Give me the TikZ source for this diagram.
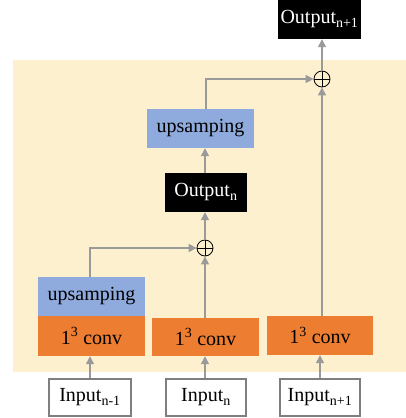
\documentclass[tikz,border=0pt]{standalone}
\usepackage{fontspec}
\setmainfont{Liberation Serif}
\usetikzlibrary{arrows.meta}
\definecolor{bgyel}{HTML}{FCF0CF}
\definecolor{convor}{HTML}{ED7D31}
\definecolor{upblue}{HTML}{8FAADC}
\definecolor{linegray}{HTML}{9A9A9A}
\definecolor{boxgray}{HTML}{7F7F7F}
\tikzset{
  box/.style={rectangle, inner sep=0pt, minimum width=107pt, minimum height=39pt, font=\fontsize{20}{22}\selectfont},
  convbox/.style={box, fill=convor, text=black},
  upbox/.style={box, fill=upblue, text=black},
  outbox/.style={box, fill=black, text=white, minimum width=82pt},
  inbox/.style={box, fill=white, draw=boxgray, line width=1.3pt, minimum width=80pt, minimum height=37pt},
  plusnode/.style={circle, draw=black, line width=0.8pt, minimum size=16pt, inner sep=0pt},
  arr/.style={draw=linegray, line width=1.3pt, -{Triangle[width=8pt,length=8pt]}, color=linegray},
}
\begin{document}
\begin{tikzpicture}[x=1pt,y=-1pt]
\useasboundingbox (0,0) rectangle (406,418);
\fill[bgyel] (13,60) rectangle (406,372);
\node[outbox, minimum width=83pt] (out1) at (319.5,19.5) {Output\textsubscript{n+1}};
\node[plusnode] (plus1) at (322,79) {};
\draw[line width=0.8pt] (plus1.north) -- (plus1.south) (plus1.west) -- (plus1.east);
\node[upbox] (up1) at (200.5,128.5) {upsamping};
\node[outbox] (outn) at (206,192.5) {Output\textsubscript{n}};
\node[plusnode] (plus2) at (205,248) {};
\draw[line width=0.8pt] (plus2.north) -- (plus2.south) (plus2.west) -- (plus2.east);
\node[upbox] (up2) at (91.5,296.5) {upsamping};
\node[convbox, minimum height=40pt] (conv1) at (91.5,336) {1\textsuperscript{3} conv};
\node[convbox, minimum height=38pt] (conv2) at (205.5,337) {1\textsuperscript{3} conv};
\node[convbox, minimum width=106pt] (conv3) at (320,335.5) {1\textsuperscript{3} conv};
\node[inbox, minimum width=82pt] (in1) at (90,397.5) {Input\textsubscript{n-1}};
\node[inbox] (in2) at (206,397.5) {Input\textsubscript{n}};
\node[inbox] (in3) at (320,397.5) {Input\textsubscript{n+1}};
% arrows
\draw[arr] (in1.north) -- (in1.north |- conv1.south);
\draw[arr] (in2.north -| plus2) -- (plus2 |- conv2.south);
\draw[arr] (in3.north) -- (in3.north |- conv3.south);
\draw[arr] (conv2.north -| plus2) -- (plus2.south);
\draw[arr] (up2.north -| in1) |- (plus2.west);
\draw[arr] (plus2.north) -- (plus2 |- outn.south);
\draw[arr] (outn.north -| plus2) -- (plus2 |- up1.south);
\draw[arr] (up1.north -| outn) |- (plus1.west);
\draw[arr] (conv3.north -| plus1) -- (plus1.south);
\draw[arr] (plus1.north) -- (plus1 |- out1.south);
\end{tikzpicture}
\end{document}
